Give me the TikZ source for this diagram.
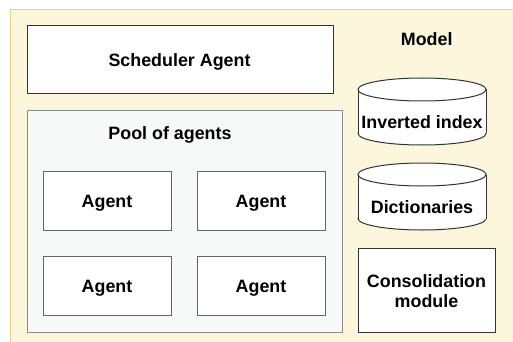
\documentclass[tikz,border=0pt]{standalone}
\usepackage{fontspec}
\setmainfont{Liberation Sans}
\definecolor{bgfill}{HTML}{FCF6DC}
\definecolor{bgline}{HTML}{E6D08A}
\definecolor{poolfill}{HTML}{F7F9F9}
\definecolor{poolline}{HTML}{8A8A8A}
\definecolor{boxline}{HTML}{333333}
\definecolor{agentline}{HTML}{666666}
\begin{document}
\begin{tikzpicture}[x=0.75pt,y=-0.75pt,
  lbl/.style={font=\fontsize{13.4}{15}\selectfont\bfseries, align=center, inner sep=0pt},
  box/.style={draw=boxline, fill=white, line width=0.75pt},
  agentbox/.style={draw=agentline, fill=white, line width=0.75pt},
  cyl/.style={draw=boxline, fill=white, line width=0.75pt}]
\useasboundingbox (0,0) rectangle (513,342);
\clip (0,0) rectangle (513,342);
% background
\draw[fill=bgfill, draw=bgline, line width=0.75pt] (10,10) rectangle (530,360);
% scheduler
\draw[box] (27,26) rectangle (333,94);
\node[lbl, anchor=base] (sched) at (179.5,66.7) {Scheduler Agent};
% pool
\draw[fill=poolfill, draw=poolline, line width=0.75pt] (27,111) rectangle (342,332);
\node[lbl, anchor=base] (pool) at (170,139.3) {Pool of agents};
\draw[agentbox] (43,171) rectangle (171,230);
\draw[agentbox] (197,171) rectangle (325,230);
\draw[agentbox] (43,256) rectangle (171,315);
\draw[agentbox] (197,256) rectangle (325,315);
\node[lbl, anchor=base] (a1) at (107,207.3) {Agent};
\node[lbl, anchor=base] (a2) at (261,207.3) {Agent};
\node[lbl, anchor=base] (a3) at (107,292.3) {Agent};
\node[lbl, anchor=base] (a4) at (261,292.3) {Agent};
% model
\node[lbl, anchor=base] (model) at (426.7,45.7) {Model};
% cylinder 1
\draw[cyl] (422,133.5) ellipse (64 and 11.5);
\fill[white] (358,89.5) rectangle (486,133.5);
\draw[draw=boxline, line width=0.75pt] (358,89.5) -- (358,133.5) (486,89.5) -- (486,133.5);
\draw[cyl] (422,89.5) ellipse (64 and 11.5);
\node[lbl, anchor=base] (inv) at (422,128.3) {Inverted index};
% cylinder 2
\draw[cyl] (422,218.5) ellipse (64 and 11.5);
\fill[white] (358,174.5) rectangle (486,218.5);
\draw[draw=boxline, line width=0.75pt] (358,174.5) -- (358,218.5) (486,174.5) -- (486,218.5);
\draw[cyl] (422,174.5) ellipse (64 and 11.5);
\node[lbl, anchor=base] (dict) at (422,213.3) {Dictionaries};
% consolidation
\draw[box] (358,248) rectangle (495,332);
\node[lbl] (cons) at (426.5,291.5) {Consolidation\\module};
\end{tikzpicture}
\end{document}
